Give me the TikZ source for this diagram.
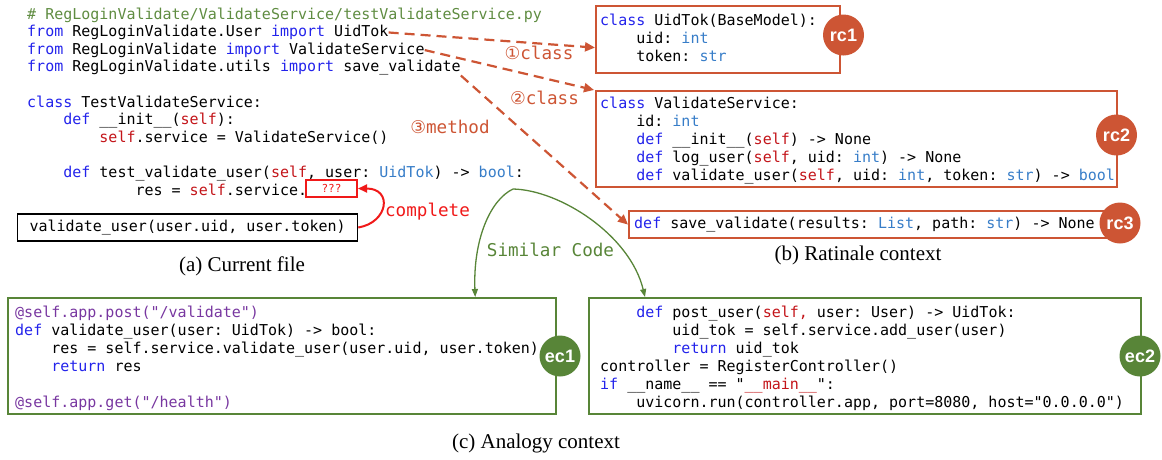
\documentclass[tikz,border=0pt]{standalone}
\usepackage{fontspec}
\setmainfont{Liberation Serif}
\setmonofont{DejaVu Sans Mono}
\newfontfamily\symfont{DejaVu Sans}
\newfontfamily\tagfont{Liberation Sans}
\usepackage{xcolor}
\usepackage{tikz}
\usetikzlibrary{arrows.meta}

\definecolor{rcol}{RGB}{205,85,52}
\definecolor{ecol}{RGB}{88,133,56}
\definecolor{kwc}{RGB}{35,35,235}
\definecolor{tyc}{RGB}{55,125,200}
\definecolor{slc}{RGB}{195,20,25}
\definecolor{cmc}{RGB}{95,140,65}
\definecolor{dcc}{RGB}{120,55,160}
\definecolor{hot}{RGB}{240,25,25}

\newlength{\cw}\setlength{\cw}{9.03pt}
\newcommand{\indt}[1]{\hspace*{#1\cw}\ignorespaces}
\newcommand{\kwd}[1]{\textcolor{kwc}{#1}}
\newcommand{\typ}[1]{\textcolor{tyc}{#1}}
\newcommand{\slf}[1]{\textcolor{slc}{#1}}
\newcommand{\cmnt}[1]{\textcolor{cmc}{#1}}
\newcommand{\deco}[1]{\textcolor{dcc}{#1}}
\newcommand{\codefont}{\ttfamily\fontsize{15}{18}\selectfont}
\newcommand{\lblfont}{\ttfamily\fontsize{17.6}{20}\selectfont}
\newcommand{\capfont}{\rmfamily\fontsize{21}{24}\selectfont}

\begin{document}
\begin{tikzpicture}[x=1pt,y=1pt]
	\tikzstyle{every node}+=[inner sep=0pt]
	\tikzstyle{code}=[font=\codefont, anchor=base west]
	\tikzstyle{rbox}=[draw=rcol, line width=2.2pt, anchor=north west]
	\tikzstyle{ebox}=[draw=ecol, line width=2.2pt, anchor=north west]
	\tikzstyle{tag}=[circle, fill=#1, text=white, minimum size=41pt, font=\tagfont\bfseries\fontsize{18}{18}\selectfont]
	\tikzstyle{link}=[rcol, line width=2.2pt, dash pattern=on 10pt off 6pt, -{Triangle[length=10pt,width=9pt]}]
	\tikzstyle{sim}=[ecol, line width=1.3pt, -{Triangle[length=8pt,width=6pt]}]
	\tikzstyle{captxt}=[font=\capfont]
	\useasboundingbox (0,0) rectangle (1162,-459);
	\node[code] (head) at (27,-19) {\cmnt{\# RegLoginValidate/ValidateService/testValidateService.py}};
	\node[code] (imp1) at (27,-36.6) {\kwd{from} RegLoginValidate.User \kwd{import} UidTok};
	\node[code] (imp2) at (27,-54.2) {\kwd{from} RegLoginValidate \kwd{import} ValidateService};
	\node[code] (imp3) at (27,-71.8) {\kwd{from} RegLoginValidate.utils \kwd{import} save\_validate};
	\node[code, font=\ttfamily\fontsize{15}{17.6}\selectfont] (test) at (27,-107) {\begin{tabular}[t]{@{}l@{}}
		\kwd{class} TestValidateService:\\
		\indt4 \kwd{def} \_\_init\_\_(\slf{self}):\\
		\indt8 \slf{self}.service = ValidateService()\\
		\\
		\indt4 \kwd{def} test\_validate\_user(\slf{self}, user: \typ{UidTok}) -> \typ{bool}:\\
		\indt{12} res = \slf{self}.service.
	\end{tabular}};
	\node[draw=hot, line width=2pt, minimum width=51pt, minimum height=17pt, text=hot, font=\ttfamily\fontsize{11}{11}\selectfont] (hole) at (331.5,-188.5) {???};
	\node[draw, line width=1.3pt, anchor=west, minimum width=340pt, minimum height=27pt, font=\codefont] (ans) at (17,-227.5) {validate\_user(user.uid, user.token)};
	\draw[hot, line width=2pt, -{Triangle[length=9pt,width=8pt]}] (ans.east) .. controls +(30,5) and +(35,0) .. (hole.east);
	\node[font=\lblfont, text=hot] (cplt) at (427.5,-212) {complete};
	\node[captxt] (capa) at (242,-266) {(a) Current file};
	\node[rbox, minimum width=244pt, minimum height=67pt] (rc1) at (595,-5) {};
	\node[code] (rc1code) at (600,-25) {\begin{tabular}[t]{@{}l@{}}
		\kwd{class} UidTok(BaseModel):\\
		\indt4 uid: \typ{int}\\
		\indt4 token: \typ{str}
	\end{tabular}};
	\node[rbox, minimum width=521pt, minimum height=96pt] (rc2) at (595,-90) {};
	\node[code] (rc2code) at (600,-108) {\begin{tabular}[t]{@{}l@{}}
		\kwd{class} ValidateService:\\
		\indt4 id: \typ{int}\\
		\indt4 \kwd{def} \_\_init\_\_(\slf{self}) -> None\\
		\indt4 \kwd{def} log\_user(\slf{self}, uid: \typ{int}) -> None\\
		\indt4 \kwd{def} validate\_user(\slf{self}, uid: \typ{int}, token: \typ{str}) -> \typ{bool}
	\end{tabular}};
	\node[rbox, minimum width=482pt, minimum height=27pt] (rc3) at (628,-210) {};
	\node[code] (rc3code) at (634,-228) {\kwd{def} save\_validate(results: \typ{List}, path: \typ{str}) -> None};
	\node[tag=rcol] (t1) at (843.5,-35) {rc1};
	\node[tag=rcol] (t2) at (1116.5,-135) {rc2};
	\node[tag=rcol] (t3) at (1120,-223) {rc3};
	\node[captxt] (capb) at (858,-255) {(b) Ratinale context};
	\draw[link] (imp1.east) -- ([yshift=-8pt]rc1.west);
	\draw[link] (imp2.east) -- ([xshift=-1pt]rc2.north west);
	\draw[link] (imp3.south east) -- (rc3.west);
	\node[font=\lblfont, text=rcol] (lab1) at (539,-53) {{\symfont ①}class};
	\node[font=\lblfont, text=rcol] (lab2) at (544.5,-98) {{\symfont ②}class};
	\node[font=\lblfont, text=rcol] (lab3) at (450,-127) {{\symfont ③}method};
	\node[ebox, minimum width=548pt, minimum height=116pt] (ec1) at (7,-297) {};
	\node[code] (ec1code) at (15,-317) {\begin{tabular}[t]{@{}l@{}}
		\deco{@self.app.post("/validate")}\\
		\kwd{def} validate\_user(user: UidTok) -> bool:\\
		\indt4 res = self.service.validate\_user(user.uid, user.token)\\
		\indt4 \kwd{return} res\\
		\\
		\deco{@self.app.get("/health")}
	\end{tabular}};
	\node[ebox, minimum width=552pt, minimum height=116pt] (ec2) at (588,-297) {};
	\node[code] (ec2code) at (600,-317) {\begin{tabular}[t]{@{}l@{}}
		\indt4 \kwd{def} post\_user(\slf{self,} user: User) -> UidTok:\\
		\indt8 uid\_tok = self.service.add\_user(user)\\
		\indt8 \kwd{return} uid\_tok\\
		controller = RegisterController()\\
		\kwd{if} \_\_name\_\_ == "\slf{\_\_main\_\_}":\\
		\indt4 uvicorn.run(controller.app, port=8080, host="0.0.0.0")
	\end{tabular}};
	\node[tag=ecol] (t4) at (560,-356) {ec1};
	\node[tag=ecol] (t5) at (1140,-356) {ec2};
	\coordinate (fork) at (513,-189);
	\draw[sim] (fork) .. controls (490,-200) and (473,-240) .. ([xshift=-82pt]ec1.north east);
	\draw[sim] (fork) .. controls (560,-190) and (630,-235) .. ([xshift=57pt]ec2.north west);
	\node[font=\lblfont, text=ecol] (simlbl) at (550.5,-250) {Similar Code};
	\node[captxt] (capc) at (536,-443) {(c) Analogy context};
\end{tikzpicture}
\end{document}
